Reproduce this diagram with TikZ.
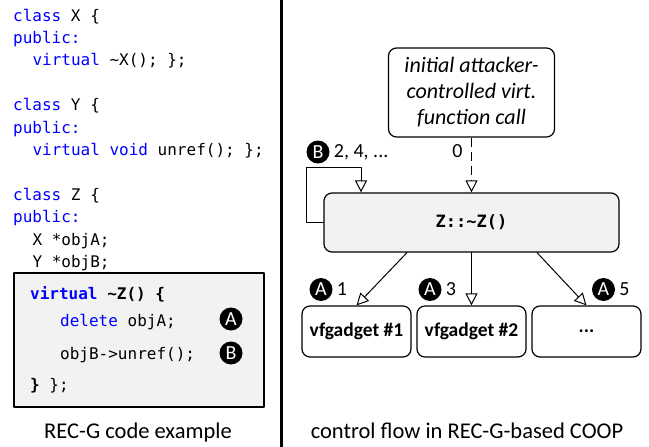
\documentclass[tikz,border=0pt]{standalone}
\usepackage{fontspec}
\setmainfont{Carlito}
\setmonofont{DejaVu Sans Mono}
\usetikzlibrary{arrows.meta,positioning}
\definecolor{kwblue}{RGB}{0,0,255}
\definecolor{boxgray}{RGB}{242,242,242}
\newcommand\kw[1]{\textcolor{kwblue}{#1}}
\newcommand\codefont{\fontsize{16}{19}\selectfont\ttfamily}
\tikzset{
  code/.style={anchor=base west,inner sep=0pt,font=\codefont},
  badge/.style={circle,fill=black,text=white,inner sep=0pt,minimum size=23pt,font=\fontsize{20}{20}\selectfont},
  lbl/.style={inner sep=1pt,font=\fontsize{20}{20}\selectfont},
  rbox/.style={draw,rounded corners=8pt,line width=1.2pt,inner sep=0pt},
  gbox/.style={rbox,fill=white,minimum width=109pt,minimum height=51pt,font=\fontsize{19.5}{22}\selectfont\bfseries},
  arr/.style={-{Triangle[open,length=12pt,width=12pt]},line width=1pt},
  caption/.style={anchor=base,inner sep=0pt,font=\fontsize{22.5}{27}\selectfont},
}
\begin{document}
\begin{tikzpicture}[x=1pt,y=-1pt,line cap=round,line join=round]
\useasboundingbox (0,0) rectangle (649,447);
\foreach \i/\x/\txt in {0/13/{\kw{class} X \{},1/13/{\kw{public:}},2/32.3/{\kw{virtual} \textasciitilde X(); \};},
  4/13/{\kw{class} Y \{},5/13/{\kw{public:}},6/32.3/{\kw{virtual} \kw{void} unref(); \};},
  8/13/{\kw{class} Z \{},9/13/{\kw{public:}},10/32.3/{X *objA;},11/32.3/{Y *objB;}}
\node[code] (line\i) at (\x,{21+22.4*\i}) {\txt};
\node[draw,fill=boxgray,line width=1.5pt,minimum width=250pt,minimum height=134pt] (zdef) at (139,340) {};
\node[code,font=\codefont\bfseries] (dtor) at (30,299) {\kw{virtual} \textasciitilde Z() \{};
\node[code] (del) at (60,326) {\kw{delete} objA;};
\node[code] (unref) at (60,359) {objB->unref();};
\node[code] (close) at (30,390) {\textbf{\}} \};};
\node[badge] (ba) at (231,319) {A};
\node[badge] (bb) at (231,353) {B};
\node[caption] (capl) at (138,438) {REC-G code example};
\draw[line width=3pt,line cap=butt] (281.5,0) -- (281.5,447);
\node[rbox,minimum width=166pt,minimum height=89pt,align=center,font=\fontsize{22}{26}\selectfont\itshape] (attk) at (471.5,92.5) {initial attacker-\\controlled virt.\\function call};
\node[rbox,fill=boxgray,minimum width=295pt,minimum height=59pt,font=\fontsize{17}{20}\selectfont\ttfamily\bfseries] (zbox) at (471.5,222.5) {Z::\textasciitilde Z()};
\foreach \n/\x/\t in {1/356.5/vfgadget \#1,2/471.5/vfgadget \#2,3/586.5/.{}.{}.}
\node[gbox] (g\n) at (\x,331.5) {\t};
\draw[arr,dash pattern=on 9pt off 5pt,line cap=butt] (attk.south) -- (zbox.north);
\node[lbl] (zero) at (457.5,151.5) {0};
\coordinate (loopl) at (306,167);
\coordinate (loopr) at (361,167);
\draw[arr] (zbox.west) -| (loopl) -- (loopr) -- (loopr |- zbox.north);
\node[badge] (b24) at (318,152) {B};
\node[lbl,anchor=west,right=3pt of b24] {2, 4, ...};
\draw[arr] ([xshift=-64.5pt]zbox.south) -- (g1.north);
\draw[arr] (zbox.south) -- (g2.north);
\draw[arr] ([xshift=65.5pt]zbox.south) -- (g3.north);
\foreach \n/\x/\k in {1/321/1,2/430/3,3/603.5/5}
\node[badge] (a\n) at (\x,289.5) {A} node[lbl,right=3pt of a\n] {\k};
\node[caption] (capr) at (467,438) {control flow in REC-G-based COOP};
\end{tikzpicture}
\end{document}
